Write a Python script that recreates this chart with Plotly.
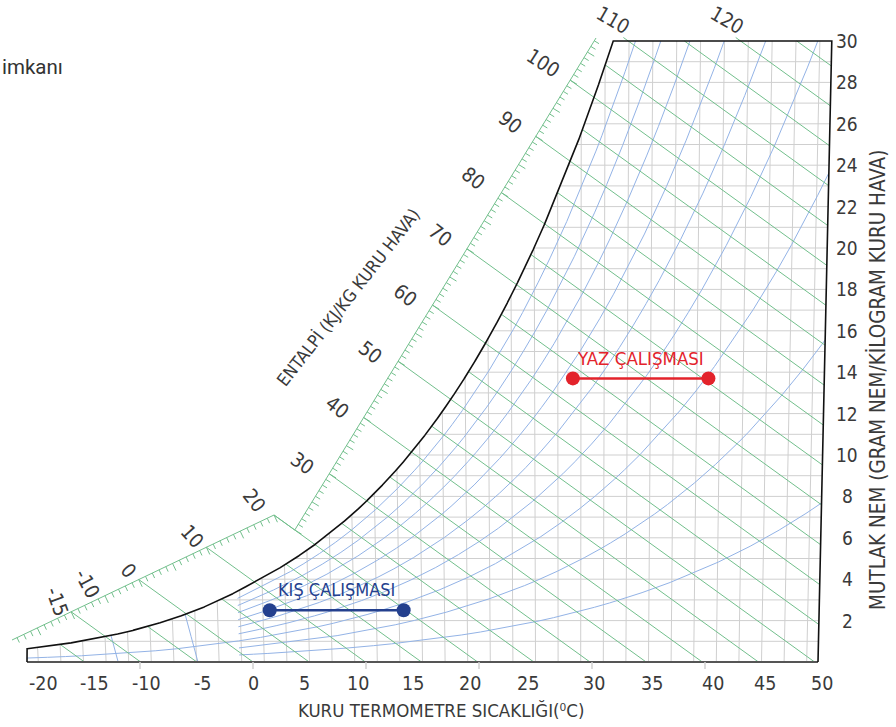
import numpy as np
import plotly.graph_objects as go

# ---------------- data ----------------
temp_ticks = [-20, -15, -10, -5, 0, 5, 10, 15, 20, 25, 30, 35, 40, 45, 50]
temp_tick_marks = [-10, 0, 10, 20, 30, 40]
hum_ticks = [2, 4, 6, 8, 10, 12, 14, 16, 18, 20, 22, 24, 26, 28, 30]
enth_labels = [-15, -10, 0, 10, 20, 30, 40, 50, 60, 70, 80, 90, 100, 110, 120]
rh_levels = [10, 20, 30, 40, 50, 60, 70, 80, 90]
rh_start_t = [-1.2, -1.2, -20, -1.2, -1.2, -1.2, -1.2, -1.2, -1.2]
vol_levels = [0.74, 0.76]
winter_t = [1.6, 13.4]
winter_w = [2.5, 2.5]
summer_t = [28.3, 40.0]
summer_w = [13.7, 13.7]

# ---------------- geometry (page pixels <-> chart units) ----------------
WPX, HPX = 896, 727
X0, SX = 253.0, 11.3      # pixel of 0 degC, pixels per degC
Y0, SY = 662.0, 20.7      # pixel of 0 g/kg, pixels per g/kg


def px2x(px):
    return (px - X0) / SX


def py2w(py):
    return (Y0 - py) / SY


P = 101.325
K2 = 1.86 / 1.006 / 1000.0
T0 = 28.0
CW = (2501 + 1.86 * T0) / 1000.0


def pws(t):
    t = np.asarray(t, float)
    water = 0.61094 * np.exp(17.625 * t / (t + 243.04))
    ice = 0.61115 * np.exp(22.452 * t / (272.55 + t))
    return np.where(t < 0, ice, water)


def w_of(t, phi=1.0):
    p = phi * pws(t)
    return 622.0 * p / (P - p)


def cx(t, w):
    return np.asarray(t) + K2 * np.asarray(w) * (np.asarray(t) - T0)


def h_true(t, w):
    return 1.006 * t + w / 1000.0 * (2501 + 1.86 * t)


def fval(x, w):
    return 1.006 * x + CW * w


tt = np.linspace(-20, 50, 14001)
ws_d = w_of(tt)
hs_d = h_true(tt, ws_d)
t_top = float(np.interp(30.0, ws_d, tt))
w_m20 = float(w_of(-20.0))

# ---------------- build line collections ----------------
def add_seg(xs, ys, px, py):
    xs.extend(list(px) + [None])
    ys.extend(list(py) + [None])

# gray grid
gx, gy = [], []
for t in range(-19, 50, 2):
    we = min(float(w_of(t)), 30.0)
    add_seg(gx, gy, [cx(t, 0), cx(t, we)], [0, we])
for w in range(1, 30):
    tl = -20.0 if w < w_m20 else float(np.interp(w, ws_d, tt))
    add_seg(gx, gy, [cx(tl, w), cx(50, w)], [w, w])

# relative humidity curves
bx, by = [], []
for rh, t_st in zip(rh_levels, rh_start_t):
    tr = tt[tt >= t_st]
    ww = w_of(tr, rh / 100.0)
    m = ww <= 30
    xs = list(cx(tr[m], ww[m]))
    ys = list(ww[m])
    if not m.all():
        te = float(np.interp(30.0, ww, tr))
        xs.append(float(cx(te, 30.0)))
        ys.append(30.0)
    add_seg(bx, by, xs, ys)

# specific volume lines
wg = np.linspace(0, 30, 3001)
for v in vol_levels:
    tv = v * P / (0.287042 * (1 + 1.6078 * wg / 1000.0)) - 273.15
    tsat = np.interp(wg, ws_d, tt, left=-100)
    m = tv >= tsat
    add_seg(bx, by, list(cx(tv[m], wg[m])), list(wg[m]))

# enthalpy scale
LA = (px2x(12), py2w(640))
LBw = py2w(515)
LB = ((20 - CW * LBw) / 1.006, LBw)
UAw = py2w(530)
UA = ((20 - CW * UAw) / 1.006, UAw)
UB = (px2x(596), py2w(38))

ex, ey = [], []
add_seg(ex, ey, [LA[0], LB[0], UA[0], UB[0]], [LA[1], LB[1], UA[1], UB[1]])


def scale_point(A, B, h):
    fa, fb = fval(*A), fval(*B)
    s = (h - fa) / (fb - fa)
    return A[0] + s * (B[0] - A[0]), A[1] + s * (B[1] - A[1])


def normal_px(A, B):
    dx = (B[0] - A[0]) * SX
    dy = -(B[1] - A[1]) * SY
    n = np.hypot(dx, dy)
    dx, dy = dx / n, dy / n
    return -dy, dx


tkx, tky = [], []
for (A, B) in [(LA, LB), (UA, UB)]:
    fa, fb = fval(*A), fval(*B)
    nxp, nyp = normal_px(A, B)
    for h in range(int(np.ceil(fa)), int(np.floor(fb)) + 1):
        px_, pw_ = scale_point(A, B, h)
        L = 8.0 if h % 5 == 0 else 5.5
        add_seg(tkx, tky, [px_, px_ + nxp * L / SX], [pw_, pw_ - nyp * L / SY])
# top ticks for 110 / 120
hdir = np.array([28.68, 20.7]) / np.hypot(28.68, 20.7)
for h in [110, 120]:
    x_ = (h - CW * 30) / 1.006
    add_seg(tkx, tky, [x_, x_ - hdir[0] * 6 / SX], [30, 30 + hdir[1] * 6 / SY])

# enthalpy lines
h_sat_top = float(h_true(t_top, 30.0))
for h in range(-15, 130, 5):
    if h % 10 == 0 and h <= 20 and h >= fval(*LA):
        st = scale_point(LA, LB, h)
    elif h % 10 == 0 and 20 < h <= fval(*UB):
        st = scale_point(UA, UB, h)
    elif h <= h_sat_top:
        ts = float(np.interp(h, hs_d, tt))
        wss = float(w_of(ts))
        st = (float(cx(ts, wss)), wss)
    else:
        st = ((h - CW * 30) / 1.006, 30.0)
    if h / 1.006 <= 50:
        en = (h / 1.006, 0.0)
    else:
        we = (h / 1.006 - 50) / (K2 * (50 - T0) + CW / 1.006)
        if we > 30:
            continue
        en = (float(cx(50, we)), we)
    add_seg(ex, ey, [st[0], en[0]], [st[1], en[1]])

# outline
ts_c = np.append(tt[tt <= t_top], t_top)
ws_c = w_of(ts_c)
ox = [float(cx(-20, 0)), float(cx(-20, w_m20))] + list(cx(ts_c, ws_c)) + [float(cx(50, 30)), float(cx(50, 0))]
oy = [0, w_m20] + list(ws_c) + [30, 0]

# ---------------- figure ----------------
fig = go.Figure()
GRID = "#cfcfcf"
BLUE = "#93b3e6"
GREEN = "#72bf8c"
fig.add_trace(go.Scatter(x=gx, y=gy, mode="lines", line=dict(color=GRID, width=1), hoverinfo="skip"))
fig.add_trace(go.Scatter(x=bx, y=by, mode="lines", line=dict(color=BLUE, width=1), hoverinfo="skip"))
fig.add_trace(go.Scatter(x=ex, y=ey, mode="lines", line=dict(color=GREEN, width=1), hoverinfo="skip"))
fig.add_trace(go.Scatter(x=tkx, y=tky, mode="lines", line=dict(color=GREEN, width=1), hoverinfo="skip"))
# bottom axis + tick marks
fig.add_trace(go.Scatter(x=[float(cx(-20, 0)), float(cx(50, 0))], y=[0, 0], mode="lines",
                         line=dict(color="#555555", width=2), hoverinfo="skip"))
bmx, bmy = [], []
for t in temp_tick_marks:
    add_seg(bmx, bmy, [t, t], [0, -7 / SY])
fig.add_trace(go.Scatter(x=bmx, y=bmy, mode="lines", line=dict(color="#d0d0d0", width=1.5), hoverinfo="skip"))
fig.add_trace(go.Scatter(x=ox, y=oy, mode="lines", line=dict(color="#111111", width=1.6), hoverinfo="skip"))

RED = "#e3232b"
NAVY = "#24408e"
fig.add_trace(go.Scatter(x=list(cx(np.array(winter_t), np.array(winter_w))), y=winter_w, mode="lines+markers",
                         line=dict(color=NAVY, width=2.5), marker=dict(color=NAVY, size=14), name="KIŞ ÇALIŞMASI"))
fig.add_trace(go.Scatter(x=list(cx(np.array(summer_t), np.array(summer_w))), y=summer_w, mode="lines+markers",
                         line=dict(color=RED, width=2.5), marker=dict(color=RED, size=14), name="YAZ ÇALIŞMASI"))

FN = "Liberation Sans Narrow, Arial Narrow, DejaVu Sans Condensed, Roboto Condensed, Roboto, sans-serif"
TXT = "#3a3a3a"
ann = []


def add_text(text, px, py, size, color=TXT, angle=0, family=FN, xanchor="center"):
    ann.append(dict(text=text, x=px / WPX, y=1 - py / HPX, xref="paper", yref="paper",
                    showarrow=False, xanchor=xanchor, yanchor="middle", textangle=angle,
                    font=dict(family=family, size=size, color=color)))


bottom_label_px = [43, 94, 146, 203, 253, 304, 358, 413, 470, 528, 594, 652, 713, 765, 822]
for t, p in zip(temp_ticks, bottom_label_px):
    add_text(str(t), p, 683, 19.5)
for w in hum_ticks:
    add_text(str(w), 847, Y0 - w * SY, 19)

enth_pos = {-15: (57, 601, 70), -10: (87, 583, 62), 0: (128, 570, 50), 10: (192, 536, 48),
            20: (254, 500, 52), 30: (302, 463, 35), 40: (337, 407, 38), 50: (370, 352, 38),
            60: (405, 295, 38), 70: (440, 235, 38), 80: (473, 178, 38), 90: (510, 122, 38),
            100: (543, 63, 33), 110: (613, 20, 30), 120: (727, 20, 30)}
for h in enth_labels:
    p = enth_pos[h]
    add_text(str(h), p[0], p[1], 20, angle=p[2])

add_text("KURU TERMOMETRE SICAKLIĞI(⁰C)", 441, 710, 18.5)
add_text("MUTLAK NEM (GRAM NEM/KİLOGRAM KURU HAVA)", 877, 380, 20.5, angle=-90)
add_text("ENTALPİ (KJ/KG KURU HAVA)", 348, 298, 17.5, angle=-52)
add_text("imkanı", 0, 67, 20.5, color="#333333", family="Roboto, Open Sans, sans-serif", xanchor="left")

# series labels (placed above the series lines)
for ts_, wv, txt, col, dy, fs in [(winter_t, winter_w, "KIŞ ÇALIŞMASI", NAVY, 21, 18),
                                   (summer_t, summer_w, "YAZ ÇALIŞMASI", RED, 20, 18.5)]:
    xm = float(np.mean(cx(np.array(ts_), np.array(wv))))
    ann.append(dict(text=txt, x=xm, y=wv[0], xref="x", yref="y", yshift=dy, showarrow=False,
                    xanchor="center", yanchor="middle", font=dict(family=FN, size=fs, color=col)))

fig.update_layout(
    width=WPX, height=HPX, margin=dict(l=0, r=0, t=0, b=0, pad=0),
    paper_bgcolor="white", plot_bgcolor="white", showlegend=False,
    xaxis=dict(range=[px2x(0), px2x(WPX)], visible=False, fixedrange=True),
    yaxis=dict(range=[py2w(HPX), py2w(0)], visible=False, fixedrange=True),
    annotations=ann,
)
fig.write_html("out.html")
